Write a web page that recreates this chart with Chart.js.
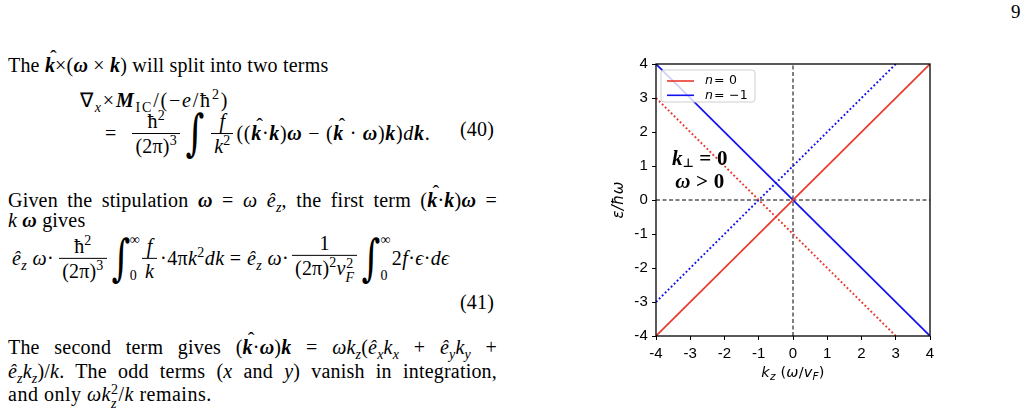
<!DOCTYPE html>
<html><head><meta charset="utf-8">
<script src="https://cdn.jsdelivr.net/npm/chart.js@4.4.1/dist/chart.umd.min.js"></script>
<style>
html,body{margin:0;padding:0;background:#fff;}
body{width:1028px;height:413px;position:relative;overflow:hidden;font-family:"Liberation Serif","Times New Roman",serif;font-size:20px;color:#000;letter-spacing:0.2px;}
.ln{position:absolute;white-space:nowrap;line-height:22px;}
.jl{position:absolute;left:8px;width:489px;line-height:22px;text-align:justify;text-align-last:justify;}
.eqn{position:absolute;left:460px;line-height:22px;}
.pg{position:absolute;left:1011px;top:1px;line-height:22px;font-size:19px;}
.bi{font-weight:bold;font-style:italic;}
.hat{position:relative;display:inline-block;}
.hat::after{content:"\02C6";position:absolute;left:0.26em;top:-0.34em;font-style:normal;font-weight:normal;}
sub,sup{font-size:0.7em;line-height:0;}
.row{position:absolute;display:flex;align-items:center;white-space:nowrap;transform:translateY(-50%);line-height:22px;}
.m{letter-spacing:0.7px;}
.m2{letter-spacing:0.4px;}
.frac{display:flex;flex-direction:column;align-items:center;line-height:24px;margin:0 3px;}
.frac .num{border-bottom:1px solid #000;padding:0 3px;text-align:center;align-self:stretch;}
.frac .den{padding:0 3px;text-align:center;}
.int{font-size:50px;line-height:1;font-family:"DejaVu Serif",serif;display:inline-block;transform:scaleX(0.72);margin:0 -2px;}
.lims{display:flex;flex-direction:column;justify-content:space-between;font-size:14px;line-height:14px;height:50px;margin-left:-2px;margin-right:1px;}
.ss{display:inline-flex;flex-direction:column;font-size:0.7em;line-height:1;vertical-align:0.48em;}
#chartBox{position:absolute;left:590px;top:50px;width:360px;height:350px;}
</style></head>
<body>
<div class="pg">9</div>

<div class="ln" style="left:8px;top:54px">The <span class="bi hat">k</span>×(<span class="bi">ω</span> × <span class="bi">k</span>) will split into two terms</div>
<div class="ln" style="left:80px;top:89px;letter-spacing:1.8px">∇<sub><i>x</i></sub>×<span class="bi">M</span><sub>IC</sub>/(−<i>e</i>/ħ<sup>2</sup>)</div>
<div class="row" style="left:105px;top:133px"><span>=</span><span class="frac" style="margin-left:16px;margin-right:4px"><span class="num">ħ<sup>2</sup></span><span class="den">(2π)<sup>3</sup></span></span><span class="int">∫</span><span class="frac" style="margin-left:5px"><span class="num"><i>f</i></span><span class="den"><i>k</i><sup>2</sup></span></span><span class="m">((<span class="bi hat">k</span>·<span class="bi">k</span>)<span class="bi">ω</span> − (<span class="bi hat">k</span> · <span class="bi">ω</span>)<span class="bi">k</span>)<i>d</i><span class="bi">k</span>.</span></div>
<div class="eqn" style="top:118px">(40)</div>

<div class="jl" style="top:189px">Given the stipulation <span class="bi">ω</span> = <i>ω</i> <i>ê</i><sub><i>z</i></sub>, the first term (<span class="bi hat">k</span>·<span class="bi">k</span>)<span class="bi">ω</span> =</div>
<div class="ln" style="left:8px;top:209px"><i>k</i> <span class="bi">ω</span> gives</div>

<div class="row" style="left:12px;top:258px"><span class="m2"><i>ê</i><sub><i>z</i></sub>&nbsp;<i>ω</i>·</span><span class="frac" style="margin-left:5px"><span class="num">ħ<sup>2</sup></span><span class="den">(2π)<sup>3</sup></span></span><span class="int">∫</span><span class="lims"><span>∞</span><span>0</span></span><span class="frac" style="margin-left:1px"><span class="num"><i>f</i></span><span class="den"><i>k</i></span></span><span class="m2">·4π<i>k</i><sup>2</sup><i>dk</i>&nbsp;=&nbsp;<i>ê</i><sub><i>z</i></sub>&nbsp;<i>ω</i>·</span><span class="frac" style="margin-left:3px"><span class="num">1</span><span class="den">(2π)<sup>2</sup><i>v</i><span class="ss"><span>2</span><span><i>F</i></span></span></span></span><span class="int">∫</span><span class="lims"><span>∞</span><span>0</span></span><span class="m2">2<i>f</i>·<i>ϵ</i>·<i>dϵ</i></span></div>
<div class="eqn" style="top:291px">(41)</div>

<div class="jl" style="top:336px">The second term gives (<span class="bi hat">k</span>·<span class="bi">ω</span>)<span class="bi">k</span> = <i>ωk</i><sub><i>z</i></sub>(<i>ê</i><sub><i>x</i></sub><i>k</i><sub><i>x</i></sub> + <i>ê</i><sub><i>y</i></sub><i>k</i><sub><i>y</i></sub> +</div>
<div class="jl" style="top:360px"><i>ê</i><sub><i>z</i></sub><i>k</i><sub><i>z</i></sub>)/<i>k</i>. The odd terms (<i>x</i> and <i>y</i>) vanish in integration,</div>
<div class="ln" style="left:8px;top:383px;letter-spacing:0.5px">and only <i>ωk</i><span class="ss"><span>2</span><span><i>z</i></span></span>/<i>k</i> remains.</div>

<div id="chartBox"><canvas id="c"></canvas></div>

<script>
// ---- data ----
const kzSolid = [-4, 4];
const epsN0Solid = [-4, 4];
const epsNm1Solid = [4, -4];
const kzDotted = [-4, 3];
const epsN0Dotted = [3, -4];
const epsNm1Dotted = [-3, 4];
const zeroLineX = [-4, 4];
const zeroLineY = [0, 0];
const tickValues = [-4, -3, -2, -1, 0, 1, 2, 3, 4];
const seriesLabels = ['n = 0', 'n = −1'];
const yTitle = 'ε/ħω';

const RED = 'rgb(233,57,44)';
const BLUE = 'rgb(18,18,240)';

const pts = (xs, ys) => xs.map((x, i) => ({x: x, y: ys[i]}));

const framePlugin = {
  id: 'frame',
  afterDatasetsDraw(chart) {
    const {ctx, chartArea: a} = chart;
    ctx.save();
    ctx.strokeStyle = '#000'; ctx.lineWidth = 1.3; ctx.setLineDash([]);
    ctx.strokeRect(a.left, a.top, a.right - a.left, a.bottom - a.top);
    ctx.restore();
  }
};

function drawParts(ctx, parts, cx, y, base) {
  let total = 0;
  parts.forEach(p => { ctx.font = p.font; p.w = ctx.measureText(p.t).width; total += p.w; });
  let x = cx - total / 2;
  ctx.textBaseline = base; ctx.textAlign = 'left';
  parts.forEach(p => { ctx.font = p.font; ctx.fillText(p.t, x, y + (p.dy || 0)); x += p.w; });
}

const textPlugin = {
  id: 'texts',
  afterDraw(chart) {
    const {ctx, chartArea: a, scales} = chart;
    ctx.save();
    ctx.fillStyle = '#000';
    const sans = '"DejaVu Sans"';
    // x-axis title
    drawParts(ctx, [
      {t: 'k', font: 'italic 14.5px ' + sans},
      {t: 'z', font: 'italic 10.5px ' + sans, dy: 3},
      {t: ' (', font: '14.5px ' + sans},
      {t: 'ω', font: 'italic 14.5px ' + sans},
      {t: '/', font: '14.5px ' + sans},
      {t: 'v', font: 'italic 14.5px ' + sans},
      {t: 'F', font: 'italic 10.5px ' + sans, dy: 3},
      {t: ')', font: '14.5px ' + sans}
    ], (a.left + a.right) / 2, a.bottom + 41, 'alphabetic');
    // annotation
    const serif = '"Liberation Serif"';
    const ax = scales.x.getPixelForValue(-2.72);
    drawParts(ctx, [
      {t: 'k', font: 'italic bold 21px ' + serif},
      {t: '⊥', font: 'bold 12px "DejaVu Sans"', dy: 4},
      {t: ' = 0', font: 'bold 21px ' + serif}
    ], ax, scales.y.getPixelForValue(1.18), 'middle');
    drawParts(ctx, [
      {t: 'ω', font: 'italic bold 21px ' + serif},
      {t: ' > 0', font: 'bold 21px ' + serif}
    ], ax, scales.y.getPixelForValue(0.5), 'middle');
    // legend
    const items = chart.data.datasets.filter(d => d.inLegend);
    const lx = a.left + 5, ly = a.top + 6, lw = 94, lh = 32;
    ctx.beginPath();
    ctx.roundRect(lx, ly, lw, lh, 3);
    ctx.fillStyle = 'rgba(255,255,255,0.8)'; ctx.fill();
    ctx.strokeStyle = '#cfcfcf'; ctx.lineWidth = 1; ctx.stroke();
    items.forEach((d, i) => {
      const cy = ly + 11 + i * 14.3;
      ctx.strokeStyle = d.borderColor; ctx.lineWidth = 1.6; ctx.setLineDash([]);
      ctx.beginPath(); ctx.moveTo(lx + 6, cy); ctx.lineTo(lx + 33, cy); ctx.stroke();
      ctx.fillStyle = '#000'; ctx.textBaseline = 'middle'; ctx.textAlign = 'left';
      const parts = d.label.split(' ');
      let tx = lx + 44;
      ctx.font = 'italic 12.5px ' + sans; ctx.fillText(parts[0], tx, cy);
      tx += ctx.measureText(parts[0]).width + 1;
      ctx.font = '12.5px ' + sans; ctx.fillText(parts.slice(1).join(' '), tx, cy);
    });
    ctx.restore();
  }
};

const tickFont = {family: '"Liberation Sans", Arial, sans-serif', size: 15};

new Chart(document.getElementById('c'), {
  type: 'scatter',
  data: {
    datasets: [
      {label: seriesLabels[0], inLegend: true, data: pts(kzSolid, epsN0Solid), borderColor: RED, borderWidth: 1.7},
      {label: seriesLabels[1], inLegend: true, data: pts(kzSolid, epsNm1Solid), borderColor: BLUE, borderWidth: 1.7},
      {label: 'n0 shifted', data: pts(kzDotted, epsN0Dotted), borderColor: RED, borderWidth: 1.9, borderDash: [1.9, 2.3]},
      {label: 'n-1 shifted', data: pts(kzDotted, epsNm1Dotted), borderColor: BLUE, borderWidth: 1.9, borderDash: [1.9, 2.3]},
      {label: 'zero h', data: pts(zeroLineX, zeroLineY), borderColor: '#000', borderWidth: 1, borderDash: [4, 2.5]},
      {label: 'zero v', data: pts(zeroLineY, zeroLineX), borderColor: '#000', borderWidth: 1, borderDash: [4, 2.5]}
    ].map(d => Object.assign({showLine: true, pointRadius: 0, pointHoverRadius: 0, fill: false, tension: 0, backgroundColor: d.borderColor}, d))
  },
  options: {
    responsive: true,
    maintainAspectRatio: false,
    animation: false,
    events: [],
    layout: {padding: {left: 0, top: 14, right: 20, bottom: 0}},
    plugins: {legend: {display: false}, tooltip: {enabled: false}},
    scales: {
      x: {
        type: 'linear', min: -4, max: 4,
        afterBuildTicks: s => { s.ticks = tickValues.map(v => ({value: v})); },
        afterFit: s => { s.height = 64; },
        ticks: {color: '#000', font: tickFont, padding: 5, autoSkip: false, maxRotation: 0, callback: v => String(v)},
        grid: {display: true, drawOnChartArea: false, drawTicks: true, tickLength: 4, tickColor: '#000', tickWidth: 1},
        border: {display: false}
      },
      y: {
        type: 'linear', min: -4, max: 4,
        afterBuildTicks: s => { s.ticks = tickValues.map(v => ({value: v})); },
        afterFit: s => { s.width = 66; },
        ticks: {color: '#000', font: tickFont, padding: 4, autoSkip: false, callback: v => String(v)},
        grid: {display: true, drawOnChartArea: false, drawTicks: true, tickLength: 4, tickColor: '#000', tickWidth: 1},
        border: {display: false},
        title: {display: true, text: yTitle, color: '#000', font: {family: '"DejaVu Sans"', size: 15, style: 'italic'}, padding: {top: 20, bottom: 0}}
      }
    }
  },
  plugins: [framePlugin, textPlugin]
});
</script>
</body></html>
